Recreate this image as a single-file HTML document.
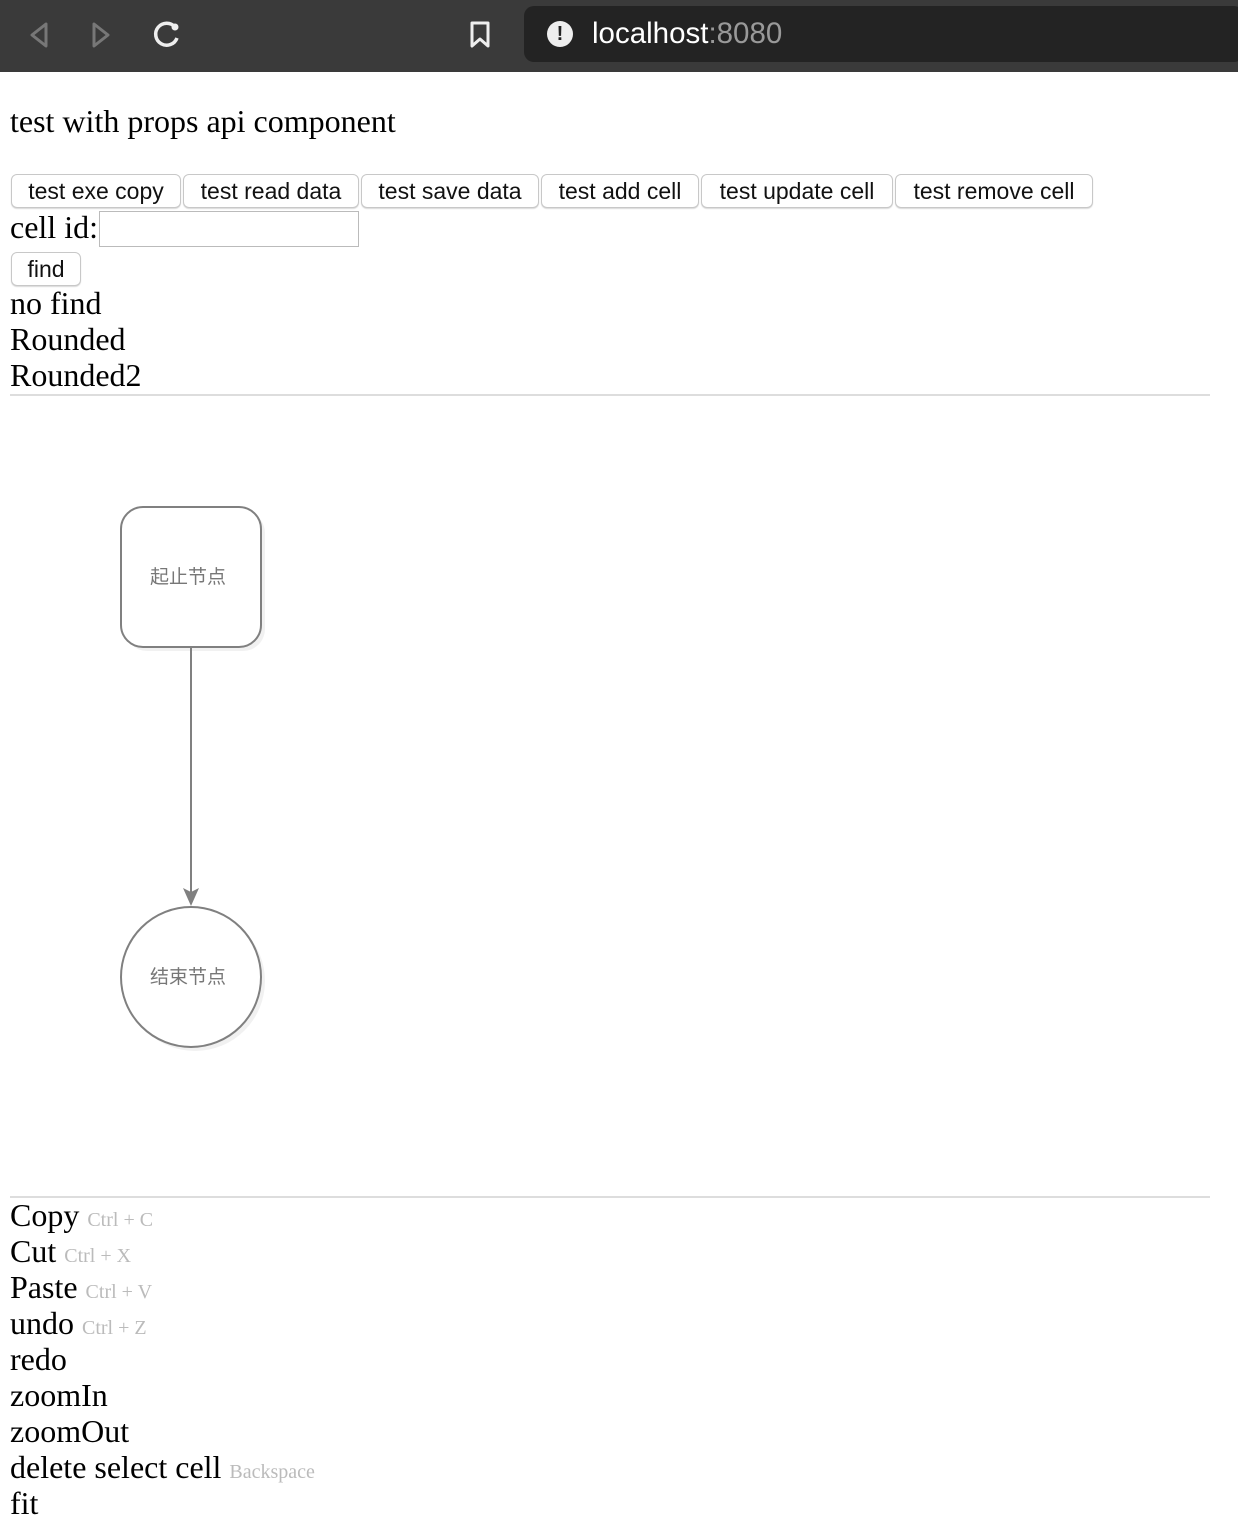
<!DOCTYPE html>
<html><head><meta charset="utf-8"><style>
body{margin:0;width:1238px;height:1524px;position:relative;background:#fff;font-family:"Liberation Serif",serif;overflow:hidden}
.a{position:absolute;white-space:nowrap}
.t{font-size:32px;line-height:36px;color:#000}
.btn{position:absolute;top:174px;height:32px;border:1px solid #c8c8c8;border-radius:6px;box-shadow:0 1px 1px rgba(0,0,0,.15);font:23px/32px "Liberation Sans",sans-serif;text-align:center;color:#111;background:#fff}
.k{font-size:20px;color:#bbb}
.cjk{font-family:"Liberation Sans","Noto Sans CJK SC",sans-serif;font-size:19px;color:#777}
</style></head><body>
<div class="a" style="left:0;top:0;width:1238px;height:72px;background:#3a3a3a"></div>
<div class="a" style="left:524px;top:6px;width:720px;height:56px;background:#232323;border-radius:10px"></div>
<svg class="a" style="left:0;top:0" width="520" height="72">
<path d="M46 24 L32 35 L46 46 Z" fill="none" stroke="#777" stroke-width="3" stroke-linejoin="round"/>
<path d="M94 24 L108 35 L94 46 Z" fill="none" stroke="#777" stroke-width="3" stroke-linejoin="round"/>
<path d="M175 27 A11 11 0 1 0 177 38" fill="none" stroke="#eee" stroke-width="3.5"/>
<circle cx="175" cy="27" r="3.5" fill="#eee"/>
<path d="M472 23 H488 V46 L480 39 L472 46 Z" fill="none" stroke="#eee" stroke-width="3" stroke-linejoin="round"/>
</svg>
<div class="a" style="left:547px;top:21px;width:26px;height:26px;border-radius:50%;background:#eee;color:#232323;font:bold 20px/26px 'Liberation Sans',sans-serif;text-align:center">!</div>
<div class="a" style="left:592px;top:16px;font:29.5px/36px 'Liberation Sans',sans-serif;color:#fff">localhost<span style="color:#999">:8080</span></div>

<div class="a" style="left:10px;top:101px;font-size:32px;line-height:40px">test with props api component</div>
<div class="btn" style="left:11px;width:168px">test exe copy</div>
<div class="btn" style="left:183px;width:174px">test read data</div>
<div class="btn" style="left:361px;width:176px">test save data</div>
<div class="btn" style="left:541px;width:156px">test add cell</div>
<div class="btn" style="left:701px;width:190px">test update cell</div>
<div class="btn" style="left:895px;width:196px">test remove cell</div>
<div class="a t" style="left:10px;top:209px">cell id:</div>
<div class="a" style="left:99px;top:211px;width:258px;height:34px;border:1px solid #bbb"></div>
<div class="btn" style="left:11px;top:252px;width:68px">find</div>
<div class="a t" style="left:10px;top:285px">no find</div>
<div class="a t" style="left:10px;top:321px">Rounded</div>
<div class="a t" style="left:10px;top:357px">Rounded2</div>
<div class="a" style="left:10px;top:394px;width:1200px;height:2px;background:#ddd"></div>

<svg class="a" style="left:0;top:400px" width="400" height="700">
<rect x="125" y="111" width="140" height="140" rx="22" fill="#eee" opacity=".8"/>
<circle cx="195" cy="581" r="70" fill="#eee" opacity=".8"/>
<rect x="121" y="107" width="140" height="140" rx="22" fill="#fff" stroke="#808080" stroke-width="2"/>
<line x1="191" y1="247" x2="191" y2="492" stroke="#808080" stroke-width="2"/>
<path d="M183 488 L191 506 L199 488 L191 492 Z" fill="#808080"/>
<circle cx="191" cy="577" r="70" fill="#fff" stroke="#808080" stroke-width="2"/>
</svg>
<div class="a cjk" style="left:121px;top:562px;width:134px;text-align:center">起止节点</div>
<div class="a cjk" style="left:121px;top:962px;width:134px;text-align:center">结束节点</div>

<div class="a" style="left:10px;top:1196px;width:1200px;height:2px;background:#ddd"></div>
<div class="a t" style="left:10px;top:1197px">Copy <span class="k">Ctrl + C</span></div>
<div class="a t" style="left:10px;top:1233px">Cut <span class="k">Ctrl + X</span></div>
<div class="a t" style="left:10px;top:1269px">Paste <span class="k">Ctrl + V</span></div>
<div class="a t" style="left:10px;top:1305px">undo <span class="k">Ctrl + Z</span></div>
<div class="a t" style="left:10px;top:1341px">redo</div>
<div class="a t" style="left:10px;top:1377px">zoomIn</div>
<div class="a t" style="left:10px;top:1413px">zoomOut</div>
<div class="a t" style="left:10px;top:1449px">delete select cell <span class="k">Backspace</span></div>
<div class="a t" style="left:10px;top:1485px">fit</div>
</body></html>
